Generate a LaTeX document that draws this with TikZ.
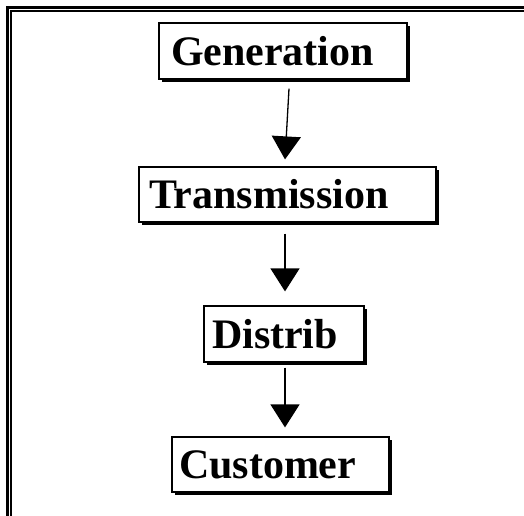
\documentclass[tikz,border=0pt]{standalone}
\usepackage{fontspec}
\setmainfont{Liberation Serif}
\usetikzlibrary{arrows.meta,shadows}
\tikzset{
  box/.style={draw=black, line width=1.2pt, fill=white, rectangle, inner ysep=0pt,
    align=left, font=\fontsize{42}{42}\selectfont\bfseries,
    drop shadow={shadow xshift=3pt, shadow yshift=-3pt, fill=black, opacity=1}},
  arr/.style={line width=1.3pt, -{Triangle[length=23pt,width=29pt]}},
  frameouter/.style={line width=3pt, miter limit=10},
  frameinner/.style={line width=1.5pt}
}
\begin{document}
\begin{tikzpicture}[x=1pt,y=-1pt]
\useasboundingbox (0,0) rectangle (524,515);
\draw[frameouter] (7.5,520) -- (7.5,7.5) -- (530,7.5);
\draw[frameinner] (11,520) -- (11,11) -- (530,11);
\node[box, inner xsep=12pt, text width=224pt, minimum height=56pt] (gen) at (283,51) {Generation};
\node[box, inner xsep=10pt, text width=277pt, minimum height=55pt] (trans) at (287.5,194.5) {Transmission};
\node[box, inner xsep=8pt, text width=144pt, minimum height=56pt] (dist) at (284,334) {Distrib};
\node[box, inner xsep=7pt, text width=203pt, minimum height=55pt] (cust) at (280.5,464.5) {Customer};
\draw[arr] ([xshift=6pt,yshift=-9pt]gen.south) -- ([xshift=-2.5pt,yshift=7pt]trans.north);
\draw[arr] ([xshift=-2.5pt,yshift=-11pt]trans.south) -- ([xshift=1pt,yshift=14pt]dist.north);
\draw[arr] ([xshift=1pt,yshift=-5pt]dist.south) -- ([xshift=4.5pt,yshift=9pt]cust.north);
\end{tikzpicture}
\end{document}
